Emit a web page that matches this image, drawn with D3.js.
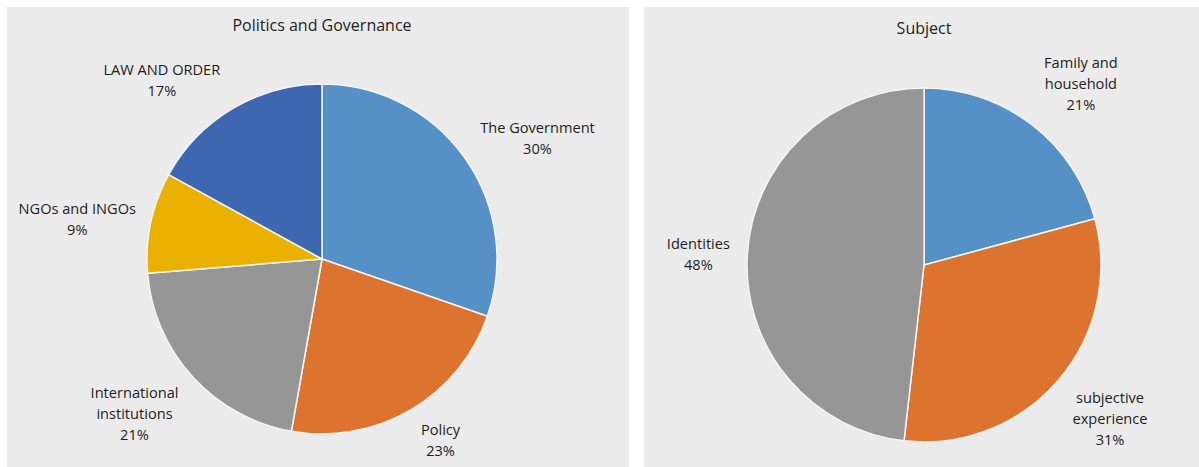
<html>
<head>
<meta charset="utf-8">
<script src="https://d3js.org/d3.v7.min.js"></script>
<style>
body {
  margin: 0;
  background: #fff;
  width: 1199px;
  height: 467px;
}
svg text {
  font-family: "Open Sans", "Noto Sans", sans-serif;
  font-size: 14.6px;
  fill: #1e1e1e;
}
svg text.title {
  font-size: 16px;
}
</style>
</head>
<body>
<svg width="1199" height="467"></svg>
<script>

// Politics and Governance
var govLabels = [["The Government"], ["Policy"], ["International", "institutions"], ["NGOs and INGOs"], ["LAW AND ORDER"]];
var govValues = [30.3, 22.5, 20.9, 9.3, 17.0];
var govColors = ["#5590c7", "#dc732f", "#969696", "#ebb100", "#3e67b2"];

// Subject
var subLabels = [["Family and", "household"], ["subjective", "experience"], ["Identities"]];
var subValues = [20.8, 31.0, 48.2];
var subColors = ["#5590c7", "#dc732f", "#969696"];

var svg = d3.select("svg");

function pieChart(opts) {
    var g = svg.append("g");

    g.append("rect")
        .attr("x", opts.x).attr("y", opts.y)
        .attr("width", opts.w).attr("height", opts.h)
        .attr("fill", "#ebebeb");

    g.append("text")
        .attr("class", "title")
        .attr("x", opts.cx).attr("y", opts.titleY)
        .attr("text-anchor", "middle")
        .attr("dominant-baseline", "middle")
        .text(opts.title);

    var data = opts.values.map((v, i) => ({label: opts.labels[i], value: v, color: opts.colors[i], nudge: opts.nudges[i]}));

    var pie = d3.pie().sort(null).value(d => d.value);
    var arc = d3.arc().innerRadius(0).outerRadius(opts.r);
    var labelArc = d3.arc().innerRadius(opts.labelR).outerRadius(opts.labelR);

    var pg = g.append("g").attr("transform", "translate(" + opts.cx + "," + opts.cy + ")");
    var arcs = pie(data);

    pg.selectAll("path")
        .data(arcs)
        .enter().append("path")
        .attr("d", arc)
        .attr("fill", d => d.data.color)
        .attr("stroke", "#f4f4f4")
        .attr("stroke-width", 1.5)
        .attr("stroke-linejoin", "round");

    var lab = pg.selectAll(".lab")
        .data(arcs)
        .enter().append("text")
        .attr("class", "lab")
        .attr("text-anchor", "middle")
        .attr("dominant-baseline", "middle")
        .attr("transform", function(d) {
            var c = labelArc.centroid(d);
            return "translate(" + (c[0] + d.data.nudge[0]) + "," + (c[1] + d.data.nudge[1] + 2) + ")";
        });

    lab.each(function(d) {
        var lines = d.data.label.concat([Math.round(d.data.value) + "%"]);
        var n = lines.length;
        d3.select(this).selectAll("tspan")
            .data(lines)
            .enter().append("tspan")
            .attr("x", 0)
            .attr("y", (t, i) => (i - (n - 1) / 2) * 21)
            .text(t => t);
    });
}

pieChart({
    x: 7, y: 7, w: 622, h: 460,
    cx: 322, cy: 259, r: 175, labelR: 240, titleY: 27,
    title: "Politics and Governance",
    labels: govLabels, values: govValues, colors: govColors,
    nudges: [[20, 18], [-3, -26], [-10, -8], [-10, 10], [-38, 27]]
});

pieChart({
    x: 644, y: 7, w: 555, h: 460,
    cx: 924, cy: 265, r: 177, labelR: 240, titleY: 30,
    title: "Subject",
    labels: subLabels, values: subValues, colors: subColors,
    nudges: [[11, 9], [4, -3], [14, 2]]
});

</script>
</body>
</html>
